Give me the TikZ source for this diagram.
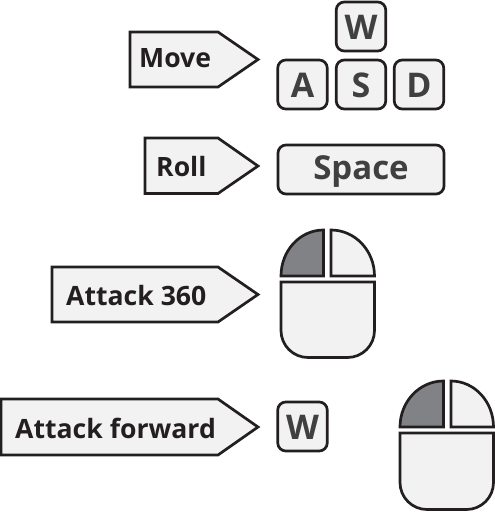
\documentclass[tikz,border=0pt]{standalone}
\usepackage{fontspec}
\setmainfont{Open Sans}
\usetikzlibrary{calc}
\definecolor{inkdark}{HTML}{231F20}
\definecolor{keyink}{HTML}{404041}
\definecolor{panel}{HTML}{F2F2F2}
\definecolor{pressed}{HTML}{808285}
\tikzset{
    outline/.style={draw=inkdark, line width=2.7pt, fill=panel, line join=miter},
    actionlabel/.style={anchor=base west, inner sep=0pt, text=inkdark, font=\fontsize{26.6}{26.6}\selectfont\bfseries},
    keycap/.style={outline, rounded corners=8pt, minimum width=49.5pt, minimum height=49pt, inner sep=0pt, text=keyink, text height=25.5pt, text depth=0pt, font=\fontsize{34}{34}\selectfont\bfseries},
}
\begin{document}
\begin{tikzpicture}[x=1pt, y=-1pt]
    \useasboundingbox (0,0) rectangle (495,512);

    % action tags
    \draw[outline] (130,32) -- (218,32) -- (258,59.5) -- (218,87) -- (130,87) -- cycle;
    \node[actionlabel] (move) at (139,67) {Move};

    \draw[outline] (145,138) -- (218,138) -- (258,166) -- (218,193.5) -- (145,193.5) -- cycle;
    \node[actionlabel] (roll) at (156,176) {Roll};

    \draw[outline] (52,267) -- (218,267) -- (258,294.5) -- (218,322) -- (52,322) -- cycle;
    \node[actionlabel] (attackspin) at (66,305) {Attack 360};

    \draw[outline] (1,399) -- (218,399) -- (258,427) -- (218,455) -- (1,455) -- cycle;
    \node[actionlabel] (attackfwd) at (15,438) {Attack forward};

    % keys
    \node[keycap] (keyw) at (361,26.5) {W};
    \node[keycap] (keya) at (302.5,84.5) {A};
    \node[keycap] (keys) at (361,84.5) {S};
    \node[keycap] (keyd) at (419,84.5) {D};
    \node[keycap, minimum width=166pt, text height=19pt, font=\fontsize{33}{33}\selectfont\bfseries] (keyspace) at (361,169.5) {Space};
    \node[keycap] (keyfwd) at (302.5,426.5) {W};

    % first mouse
    \draw[outline, fill=pressed] (281,276) arc[start angle=180, end angle=90, x radius=42.5pt, y radius=46pt] -- (323.5,276) -- cycle;
    \draw[outline] (331,230) arc[start angle=90, end angle=0, x radius=43.5pt, y radius=46pt] -- (331,276) -- cycle;
    \draw[outline] (281,282) [rounded corners=27pt] -- (281,357.5) -- (374.5,357.5) [sharp corners] -- (374.5,282) -- cycle;

    % second mouse
    \draw[outline, fill=pressed] (400,427) arc[start angle=180, end angle=90, x radius=43.5pt, y radius=46pt] -- (443.5,427) -- cycle;
    \draw[outline] (451,381) arc[start angle=90, end angle=0, x radius=42.5pt, y radius=46pt] -- (451,427) -- cycle;
    \draw[outline] (400,433) [rounded corners=27pt] -- (400,509.5) -- (493.5,509.5) [sharp corners] -- (493.5,433) -- cycle;
\end{tikzpicture}
\end{document}
